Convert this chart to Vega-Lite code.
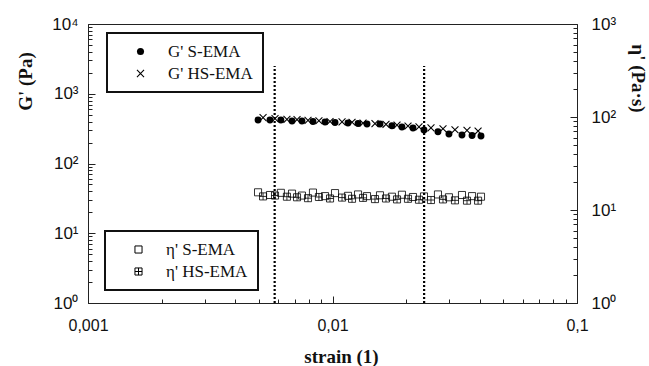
{
  "$schema": "https://vega.github.io/schema/vega-lite/v6.json",
  "width": 489,
  "height": 279,
  "autosize": {"type": "none"},
  "padding": {"left": 88, "top": 24, "right": 72, "bottom": 63},
  "background": "white",
  "config": {
    "view": {"stroke": "#222", "strokeWidth": 1},
    "axis": {
      "grid": false,
      "domainColor": "#222",
      "tickColor": "#222",
      "labelFont": "Liberation Sans",
      "labelFontSize": 16,
      "labelColor": "#111",
      "labelOverlap": false,
      "labelFlush": false,
      "labelBound": false,
      "titleFont": "Liberation Serif",
      "titleFontWeight": "bold",
      "titleFontSize": 19,
      "titleColor": "#111"
    },
    "legend": {
      "labelFont": "Liberation Serif",
      "labelFontSize": 17,
      "labelColor": "#111",
      "strokeColor": "#111",
      "strokeWidth": 2,
      "fillColor": "white",
      "padding": 10,
      "symbolOffset": 15,
      "labelOffset": 19,
      "rowPadding": 4,
      "symbolSize": 50,
      "symbolStrokeWidth": 1
    }
  },
  "datasets": {
    "G": [
      {"strain": 0.00496, "G": 421, "series": "G' S-EMA"},
      {"strain": 0.00555, "G": 421, "series": "G' S-EMA"},
      {"strain": 0.00615, "G": 421, "series": "G' S-EMA"},
      {"strain": 0.00683, "G": 407, "series": "G' S-EMA"},
      {"strain": 0.0075, "G": 407, "series": "G' S-EMA"},
      {"strain": 0.00832, "G": 400, "series": "G' S-EMA"},
      {"strain": 0.00932, "G": 393, "series": "G' S-EMA"},
      {"strain": 0.01024, "G": 388, "series": "G' S-EMA"},
      {"strain": 0.01157, "G": 381, "series": "G' S-EMA"},
      {"strain": 0.01272, "G": 375, "series": "G' S-EMA"},
      {"strain": 0.01384, "G": 368, "series": "G' S-EMA"},
      {"strain": 0.01564, "G": 368, "series": "G' S-EMA"},
      {"strain": 0.0175, "G": 348, "series": "G' S-EMA"},
      {"strain": 0.01923, "G": 334, "series": "G' S-EMA"},
      {"strain": 0.02134, "G": 323, "series": "G' S-EMA"},
      {"strain": 0.02367, "G": 302, "series": "G' S-EMA"},
      {"strain": 0.027, "G": 286, "series": "G' S-EMA"},
      {"strain": 0.02994, "G": 265, "series": "G' S-EMA"},
      {"strain": 0.03385, "G": 256, "series": "G' S-EMA"},
      {"strain": 0.03722, "G": 252, "series": "G' S-EMA"},
      {"strain": 0.04049, "G": 248, "series": "G' S-EMA"},
      {"strain": 0.0052, "G": 455, "series": "G' HS-EMA"},
      {"strain": 0.00582, "G": 440, "series": "G' HS-EMA"},
      {"strain": 0.00651, "G": 430, "series": "G' HS-EMA"},
      {"strain": 0.00716, "G": 425, "series": "G' HS-EMA"},
      {"strain": 0.00794, "G": 415, "series": "G' HS-EMA"},
      {"strain": 0.0088, "G": 410, "series": "G' HS-EMA"},
      {"strain": 0.00977, "G": 400, "series": "G' HS-EMA"},
      {"strain": 0.01094, "G": 395, "series": "G' HS-EMA"},
      {"strain": 0.01202, "G": 390, "series": "G' HS-EMA"},
      {"strain": 0.01333, "G": 380, "series": "G' HS-EMA"},
      {"strain": 0.01492, "G": 372, "series": "G' HS-EMA"},
      {"strain": 0.01655, "G": 365, "series": "G' HS-EMA"},
      {"strain": 0.01836, "G": 355, "series": "G' HS-EMA"},
      {"strain": 0.02036, "G": 345, "series": "G' HS-EMA"},
      {"strain": 0.02258, "G": 335, "series": "G' HS-EMA"},
      {"strain": 0.02528, "G": 325, "series": "G' HS-EMA"},
      {"strain": 0.02831, "G": 315, "series": "G' HS-EMA"},
      {"strain": 0.03169, "G": 305, "series": "G' HS-EMA"},
      {"strain": 0.03549, "G": 298, "series": "G' HS-EMA"},
      {"strain": 0.03939, "G": 292, "series": "G' HS-EMA"}
    ],
    "eta": [
      {"strain": 0.00496, "eta": 15.5, "series": "η' S-EMA"},
      {"strain": 0.00555, "eta": 14.5, "series": "η' S-EMA"},
      {"strain": 0.00615, "eta": 15.3, "series": "η' S-EMA"},
      {"strain": 0.00683, "eta": 15.0, "series": "η' S-EMA"},
      {"strain": 0.0075, "eta": 14.3, "series": "η' S-EMA"},
      {"strain": 0.00832, "eta": 15.4, "series": "η' S-EMA"},
      {"strain": 0.00932, "eta": 14.1, "series": "η' S-EMA"},
      {"strain": 0.01024, "eta": 15.2, "series": "η' S-EMA"},
      {"strain": 0.01157, "eta": 14.2, "series": "η' S-EMA"},
      {"strain": 0.01272, "eta": 14.7, "series": "η' S-EMA"},
      {"strain": 0.01384, "eta": 14.1, "series": "η' S-EMA"},
      {"strain": 0.01564, "eta": 14.4, "series": "η' S-EMA"},
      {"strain": 0.0175, "eta": 13.9, "series": "η' S-EMA"},
      {"strain": 0.01923, "eta": 14.6, "series": "η' S-EMA"},
      {"strain": 0.02134, "eta": 13.8, "series": "η' S-EMA"},
      {"strain": 0.02367, "eta": 14.0, "series": "η' S-EMA"},
      {"strain": 0.027, "eta": 14.7, "series": "η' S-EMA"},
      {"strain": 0.02994, "eta": 13.7, "series": "η' S-EMA"},
      {"strain": 0.03385, "eta": 14.5, "series": "η' S-EMA"},
      {"strain": 0.03722, "eta": 14.1, "series": "η' S-EMA"},
      {"strain": 0.04049, "eta": 13.9, "series": "η' S-EMA"},
      {"strain": 0.0052, "eta": 14.0, "series": "η' HS-EMA"},
      {"strain": 0.00582, "eta": 14.3, "series": "η' HS-EMA"},
      {"strain": 0.00651, "eta": 13.9, "series": "η' HS-EMA"},
      {"strain": 0.00716, "eta": 13.7, "series": "η' HS-EMA"},
      {"strain": 0.00794, "eta": 13.4, "series": "η' HS-EMA"},
      {"strain": 0.0088, "eta": 13.8, "series": "η' HS-EMA"},
      {"strain": 0.00977, "eta": 13.3, "series": "η' HS-EMA"},
      {"strain": 0.01094, "eta": 13.6, "series": "η' HS-EMA"},
      {"strain": 0.01202, "eta": 13.2, "series": "η' HS-EMA"},
      {"strain": 0.01333, "eta": 13.5, "series": "η' HS-EMA"},
      {"strain": 0.01492, "eta": 13.1, "series": "η' HS-EMA"},
      {"strain": 0.01655, "eta": 13.3, "series": "η' HS-EMA"},
      {"strain": 0.01836, "eta": 13.0, "series": "η' HS-EMA"},
      {"strain": 0.02036, "eta": 13.2, "series": "η' HS-EMA"},
      {"strain": 0.02258, "eta": 12.9, "series": "η' HS-EMA"},
      {"strain": 0.02528, "eta": 12.8, "series": "η' HS-EMA"},
      {"strain": 0.02831, "eta": 13.0, "series": "η' HS-EMA"},
      {"strain": 0.03169, "eta": 12.7, "series": "η' HS-EMA"},
      {"strain": 0.03549, "eta": 12.6, "series": "η' HS-EMA"},
      {"strain": 0.03939, "eta": 12.6, "series": "η' HS-EMA"}
    ],
    "lines": [
      {"strain": 0.0058, "lo": 1, "hi": 2500},
      {"strain": 0.0237, "lo": 1, "hi": 2500}
    ]
  },
  "layer": [
    {
      "data": {"name": "G"},
      "mark": {"type": "point", "filled": true, "fill": "black", "strokeWidth": 0, "opacity": 1, "size": 48},
      "encoding": {
        "x": {
          "field": "strain", "type": "quantitative",
          "scale": {"type": "log", "domain": [0.001, 0.1]},
          "axis": {
            "orient": "bottom",
            "title": "strain (1)",
            "values": [0.001, 0.002, 0.003, 0.004, 0.005, 0.006, 0.007, 0.008, 0.009, 0.01, 0.02, 0.03, 0.04, 0.05, 0.06, 0.07, 0.08, 0.09, 0.1],
            "labelExpr": "abs(log(datum.value)/LN10 - round(log(datum.value)/LN10)) < 0.001 ? replace(toString(datum.value), '.', ',') : ''",
            "tickSize": {"condition": {"test": "abs(log(datum.value)/LN10 - round(log(datum.value)/LN10)) < 0.001", "value": -7}, "value": -4},
            "labelPadding": 21,
            "titleX": 253,
            "titleY": 53,
            "titleBaseline": "middle"
          }
        },
        "y": {
          "field": "G", "type": "quantitative",
          "scale": {"type": "log", "domain": [1, 10000]},
          "axis": {
            "orient": "left",
            "title": "G' (Pa)",
            "values": [1, 2, 3, 4, 5, 6, 7, 8, 9, 10, 20, 30, 40, 50, 60, 70, 80, 90, 100, 200, 300, 400, 500, 600, 700, 800, 900, 1000, 2000, 3000, 4000, 5000, 6000, 7000, 8000, 9000, 10000],
            "labelExpr": "abs(log(datum.value)/LN10 - round(log(datum.value)/LN10)) < 0.001 ? '10' + ['⁰','¹','²','³','⁴'][round(log(datum.value)/LN10)] : ''",
            "tickSize": {"condition": {"test": "abs(log(datum.value)/LN10 - round(log(datum.value)/LN10)) < 0.001", "value": -7}, "value": -4},
            "labelPadding": 17,
            "labelFontSize": 17,
            "titleAngle": 270,
            "titleAlign": "center",
            "titleX": -63,
            "titleY": 57,
            "titleBaseline": "middle"
          }
        },
        "shape": {
          "field": "series", "type": "nominal",
          "scale": {"domain": ["G' S-EMA", "G' HS-EMA"], "range": ["circle", "M-1.11,-0.89L0.89,1.11L1.11,0.89L-0.89,-1.11ZM-0.89,1.11L1.11,-0.89L0.89,-1.11L-1.11,0.89Z"]},
          "legend": {
            "title": null, "orient": "none", "legendX": 19, "legendY": 9,
            "symbolFillColor": "black", "symbolStrokeColor": "transparent"
          }
        }
      }
    },
    {
      "data": {"name": "lines"},
      "mark": {"type": "rule", "color": "black", "strokeWidth": 2.2, "strokeDash": [2, 2]},
      "encoding": {
        "x": {"field": "strain", "type": "quantitative", "scale": {"type": "log", "domain": [0.001, 0.1]}},
        "y": {"field": "lo", "type": "quantitative", "scale": {"type": "log", "domain": [1, 10000]}, "axis": null},
        "y2": {"field": "hi"}
      }
    },
    {
      "data": {"name": "eta"},
      "mark": {"type": "point", "filled": false, "stroke": "black", "strokeWidth": 0.8, "opacity": 1, "size": 50},
      "encoding": {
        "x": {"field": "strain", "type": "quantitative", "scale": {"type": "log", "domain": [0.001, 0.1]}},
        "y": {
          "field": "eta", "type": "quantitative",
          "scale": {"type": "log", "domain": [1, 1000]},
          "axis": {
            "orient": "right",
            "title": "η' (Pa·s)",
            "values": [1, 2, 3, 4, 5, 6, 7, 8, 9, 10, 20, 30, 40, 50, 60, 70, 80, 90, 100, 200, 300, 400, 500, 600, 700, 800, 900, 1000],
            "labelExpr": "abs(log(datum.value)/LN10 - round(log(datum.value)/LN10)) < 0.001 ? '10' + ['⁰','¹','²','³','⁴'][round(log(datum.value)/LN10)] : ''",
            "tickSize": {"condition": {"test": "abs(log(datum.value)/LN10 - round(log(datum.value)/LN10)) < 0.001", "value": -7}, "value": -4},
            "labelPadding": 21,
            "labelFontSize": 17,
            "titleAngle": 90,
            "titleAlign": "center",
            "titleX": 60,
            "titleY": 54,
            "titleBaseline": "middle"
          }
        },
        "shape": {
          "field": "series", "type": "nominal",
          "scale": {"domain": ["η' S-EMA", "η' HS-EMA"], "range": ["M-1,-1H1V1H-1Z", "M-1,-1H1V1H-1ZM-1,0H1M0,-1V1"]},
          "legend": {"title": null, "orient": "none", "legendX": 17, "legendY": 207, "symbolFillColor": "transparent", "symbolStrokeColor": "black"}
        }
      }
    }
  ],
  "resolve": {"scale": {"y": "independent", "shape": "independent"}, "legend": {"shape": "independent"}}
}
